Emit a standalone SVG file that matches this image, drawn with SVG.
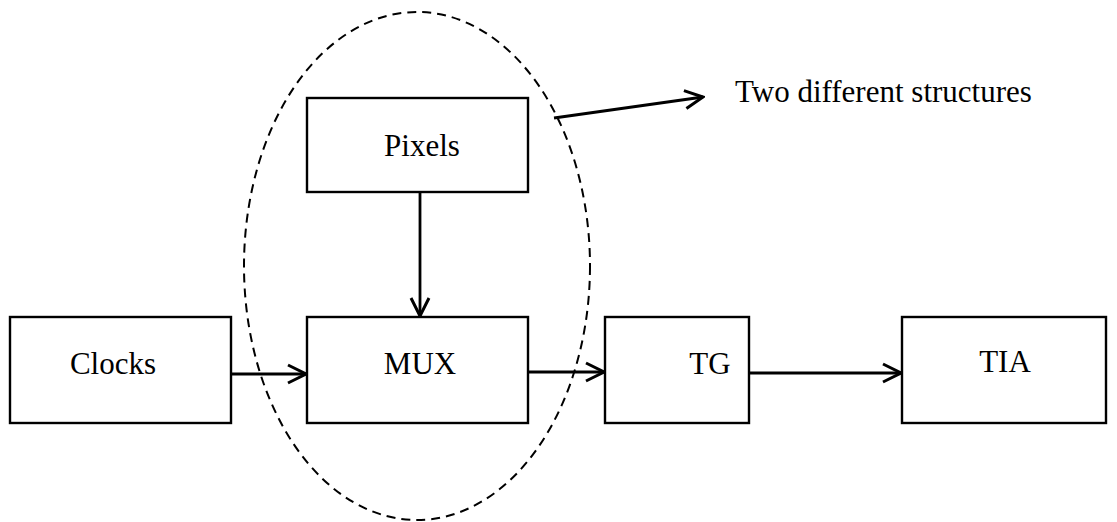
<svg xmlns="http://www.w3.org/2000/svg" width="1117" height="522" viewBox="0 0 1117 522">
  <style>
    .box { fill: #ffffff; stroke: #000000; stroke-width: 2.4; }
    .lbl { font-family: "Liberation Serif", "Times New Roman", serif; font-size: 31px; fill: #000000; }
    .wire { stroke: #000000; stroke-width: 2.8; fill: none; marker-end: url(#vhead); }
    .group { fill: none; stroke: #000000; stroke-width: 2; stroke-dasharray: 9 6; }
  </style>
  <defs>
    <marker id="vhead" viewBox="0 0 24 24" refX="22" refY="12" markerWidth="24" markerHeight="24" markerUnits="userSpaceOnUse" orient="auto">
      <path d="M4,3 L22,12 L4,21" fill="none" stroke="#000000" stroke-width="3"/>
    </marker>
  </defs>
  <rect width="1117" height="522" fill="#ffffff"/>

  <g id="clocks">
    <rect class="box" x="10" y="317" width="221" height="106"/>
    <text class="lbl" x="113" y="374" text-anchor="middle">Clocks</text>
  </g>
  <g id="pixels">
    <rect class="box" x="307" y="98" width="221" height="94"/>
    <text class="lbl" x="422" y="156" text-anchor="middle">Pixels</text>
  </g>
  <g id="mux">
    <rect class="box" x="307" y="317" width="221" height="106"/>
    <text class="lbl" x="420" y="374" text-anchor="middle">MUX</text>
  </g>
  <g id="tg">
    <rect class="box" x="605" y="317" width="144" height="106"/>
    <text class="lbl" x="710" y="374" text-anchor="middle">TG</text>
  </g>
  <g id="tia">
    <rect class="box" x="902" y="317" width="204" height="106"/>
    <text class="lbl" x="1005" y="372" text-anchor="middle">TIA</text>
  </g>
  <g id="annotation">
    <text class="lbl" x="735" y="102">Two different structures</text>
  </g>

  <g id="connectors">
    <ellipse class="group" cx="417" cy="266" rx="173" ry="254"/>
    <line class="wire" x1="231" y1="374" x2="306" y2="374"/>
    <line class="wire" x1="420" y1="192" x2="420" y2="316"/>
    <line class="wire" x1="528" y1="372" x2="604" y2="372"/>
    <line class="wire" x1="749" y1="373" x2="901" y2="373"/>
    <line class="wire" x1="554" y1="118" x2="703" y2="97"/>
  </g>
</svg>
